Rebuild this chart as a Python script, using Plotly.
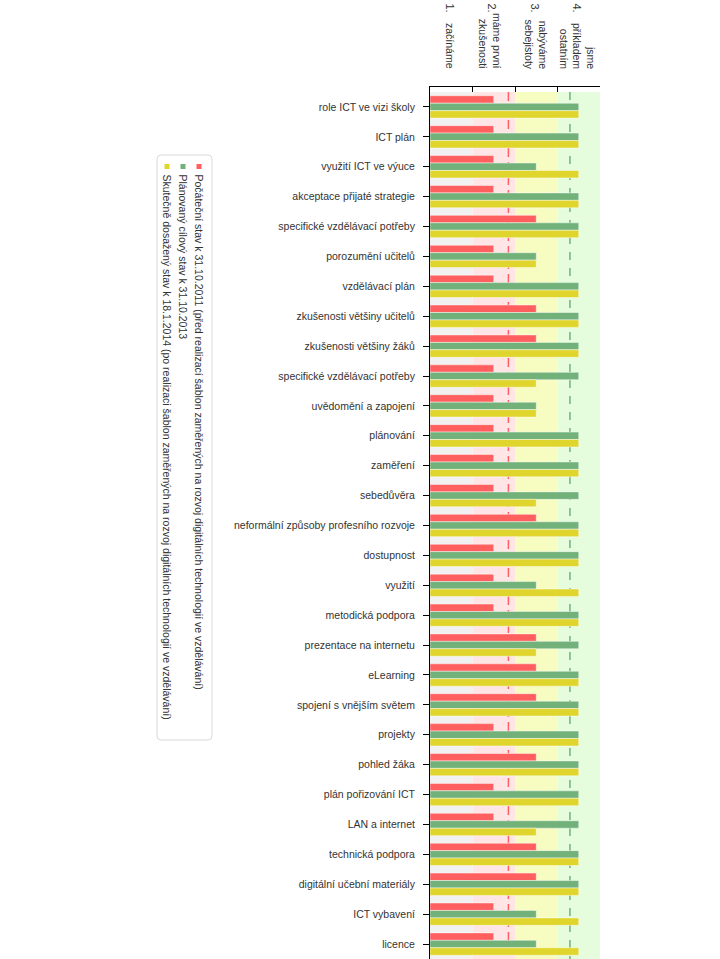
import numpy as np
import plotly.graph_objects as go

categories = [
    "role ICT ve vizi školy", "ICT plán", "využití ICT ve výuce", "akceptace přijaté strategie",
    "specifické vzdělávací potřeby", "porozumění učitelů", "vzdělávací plán",
    "zkušenosti většiny učitelů", "zkušenosti většiny žáků", "specifické vzdělávací potřeby",
    "uvědomění a zapojení", "plánování", "zaměření", "sebedůvěra",
    "neformální způsoby profesního rozvoje", "dostupnost", "využití", "metodická podpora",
    "prezentace na internetu", "eLearning", "spojení s vnějším světem", "projekty",
    "pohled žáka", "plán pořizování ICT", "LAN a internet", "technická podpora",
    "digitální učební materiály", "ICT vybavení", "licence",
]
red = [1.5, 1.5, 1.5, 1.5, 2.5, 1.5, 1.5, 2.5, 2.5, 1.5,
       1.5, 1.5, 1.5, 1.5, 2.5, 1.5, 1.5, 1.5, 2.5, 2.5,
       2.5, 1.5, 2.5, 1.5, 1.5, 2.5, 2.5, 1.5, 1.5]
green = [3.5, 3.5, 2.5, 3.5, 3.5, 2.5, 3.5, 3.5, 3.5, 3.5,
         2.5, 3.5, 3.5, 3.5, 3.5, 3.5, 2.5, 3.5, 3.5, 3.5,
         3.5, 3.5, 3.5, 3.5, 3.5, 3.5, 3.5, 2.5, 2.5]
yellow = [3.5, 3.5, 3.5, 3.5, 3.5, 2.5, 3.5, 3.5, 3.5, 2.5,
          2.5, 3.5, 3.5, 2.5, 3.5, 3.5, 3.5, 3.5, 2.5, 3.5,
          3.5, 3.5, 3.5, 3.5, 2.5, 3.5, 3.5, 3.5, 3.5]
series_names = [
    "Počáteční stav k 31.10.2011 (před realizací šablon zaměřených na rozvoj digitálních technologií ve vzdělávání)",
    "Plánovaný cílový stav k 31.10.2013",
    "Skutečně dosažený stav k 18.1.2014 (po realizaci šablon zaměřených na rozvoj digitálních technologií ve vzdělávání)",
]
series_colors = ["#FF5F5F", "#72B27A", "#E0D52C"]
band_numbers = ["1.", "2.", "3.", "4."]
band_texts = ["začínáme", "máme první<br>zkušenosti", "nabýváme<br>sebejistoty", "jsme<br>příkladem<br>ostatním"]
band_colors = ["#F1F1F1", "#FFE5E5", "#F7FCC1", "#E5FDDD"]

W, H = 720, 959
L, R, T, B = 430, 120, 87, 0
PW, PH = W - L - R, H - T - B
FONT = "Liberation Sans, Arial, sans-serif"
TXT = "#333333"

def px_x(px):  # page pixel -> paper
    return (px - L) / PW

def px_y(py):
    return (H - B - py) / PH

n = len(categories)
idx = list(range(n))
slot = (PH - 5) / n
pad = 5 / slot

fig = go.Figure()
for name, vals, col in zip(series_names, [red, green, yellow], series_colors):
    fig.add_trace(go.Bar(
        x=vals, y=idx, orientation="h", name=name,
        marker=dict(color=col, line=dict(color="rgba(255,255,255,0.45)", width=1)),
        hoverinfo="x+y",
    ))

shapes = []
for i, c in enumerate(band_colors):
    shapes.append(dict(type="rect", xref="x", yref="y", x0=i, x1=i + 1, y0=-0.5, y1=n - 0.5,
                       fillcolor=c, line=dict(width=0), layer="below"))
avg_red = float(np.mean(red))
avg_green = float(np.mean(green))
shapes.append(dict(type="line", xref="x", yref="y", x0=avg_red, x1=avg_red, y0=-0.5, y1=n - 0.5,
                   line=dict(color="#FF5F5F", width=1.5, dash="9px,5px"), layer="below"))
shapes.append(dict(type="line", xref="x", yref="y", x0=avg_green, x1=avg_green, y0=-0.5, y1=n - 0.5,
                   line=dict(color="#72B27A", width=1.5, dash="8px,8px"), layer="below"))

# legend box (rotated legend)
bx0, bx1, by0, by1 = 157, 212, 155, 740
r = 4
rx, ry = r / PW, r / PH
X0, X1, Y0, Y1 = px_x(bx0), px_x(bx1), px_y(by1), px_y(by0)
path = (f"M {X0+rx},{Y0} L {X1-rx},{Y0} Q {X1},{Y0} {X1},{Y0+ry} L {X1},{Y1-ry} "
        f"Q {X1},{Y1} {X1-rx},{Y1} L {X0+rx},{Y1} Q {X0},{Y1} {X0},{Y1-ry} L {X0},{Y0+ry} "
        f"Q {X0},{Y0} {X0+rx},{Y0} Z")
shapes.append(dict(type="path", xref="paper", yref="paper", path=path,
                   fillcolor="white", line=dict(color="#D9D9D9", width=1), layer="above"))

annotations = []
leg_x = [199, 183, 167]
for name, col, lx in zip(series_names, series_colors, leg_x):
    shapes.append(dict(type="rect", xref="paper", yref="paper",
                       x0=px_x(lx - 2.5), x1=px_x(lx + 2.5), y0=px_y(169), y1=px_y(164),
                       fillcolor=col, line=dict(width=0), layer="above"))
    annotations.append(dict(text=name, xref="paper", yref="paper", x=px_x(lx), y=px_y(172),
                            xanchor="center", yanchor="top", textangle=90, showarrow=False,
                            font=dict(family=FONT, size=10.5, color=TXT)))

num_x = [450, 492, 535, 577]
blk_x = [450, 490, 535.5, 578]
for num, txt, nx, bx in zip(band_numbers, band_texts, num_x, blk_x):
    annotations.append(dict(text=num, xref="paper", yref="paper", x=px_x(nx), y=px_y(1),
                            xanchor="center", yanchor="top", textangle=90, showarrow=False,
                            font=dict(family=FONT, size=11, color=TXT)))
    annotations.append(dict(text=txt, xref="paper", yref="paper", x=px_x(bx), y=px_y(71),
                            xanchor="center", yanchor="bottom", textangle=90, showarrow=False,
                            align="right", font=dict(family=FONT, size=10.5, color=TXT)))

fig.update_layout(
    width=W, height=H, margin=dict(l=L, r=R, t=T, b=B, pad=0),
    barmode="group", bargap=0.253, bargroupgap=0,
    plot_bgcolor="white", paper_bgcolor="white",
    showlegend=False, shapes=shapes, annotations=annotations,
    font=dict(family=FONT, size=11, color=TXT),
    xaxis=dict(range=[0, 4], side="top", showline=True, linecolor="black", linewidth=1,
               ticks="inside", ticklen=5, tickcolor="black", tickvals=[0, 1, 2, 3, 4],
               showticklabels=False, showgrid=False, zeroline=False, automargin=False),
    yaxis=dict(range=[n - 0.5, -0.5 - pad], tickvals=idx, ticktext=categories,
               showline=True, linecolor="black", linewidth=1, ticks="outside", ticklen=6,
               tickcolor="black", ticklabelstandoff=6, showgrid=False, zeroline=False,
               automargin=False, tickfont=dict(family=FONT, size=10.5, color=TXT)),
)

fig.write_html("out.html", config={"displayModeBar": False},
               post_script="document.body.style.margin='0';document.body.style.overflow='hidden';")
